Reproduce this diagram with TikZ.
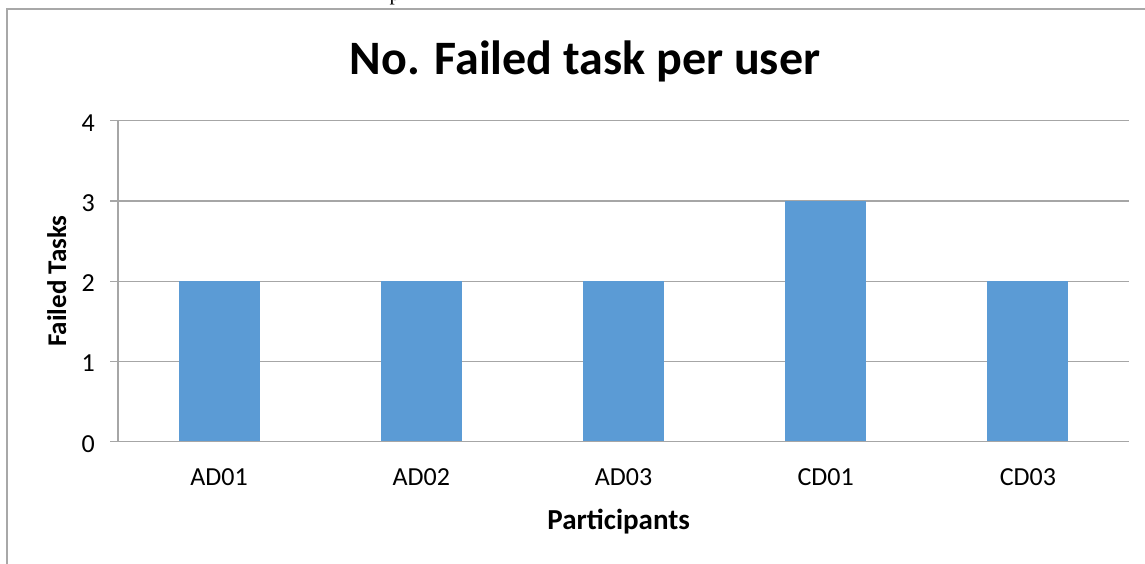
\documentclass[tikz,border=0pt]{standalone}
\usepackage{fontspec}
\setmainfont{Carlito}
\newfontfamily\pagefont{Liberation Serif}
\definecolor{barblue}{HTML}{5B9BD5}
\definecolor{gridgray}{HTML}{A6A6A6}
\definecolor{framegray}{HTML}{A8A8A8}
\begin{document}
\begin{tikzpicture}[x=1pt,y=-1pt,
  gridline/.style={draw=gridgray,line width=1.3pt},
  framestyle/.style={draw=framegray,line width=2pt},
  barstyle/.style={fill=barblue},
  ticklabel/.style={font=\fontsize{26}{30}\selectfont,inner sep=0pt,anchor=east},
  catlabel/.style={font=\fontsize{26}{30}\selectfont,inner sep=0pt,anchor=base},
  axistitle/.style={font=\fontsize{27}{32}\selectfont\bfseries,inner sep=0pt,anchor=base},
  charttitle/.style={font=\fontsize{48}{56}\selectfont\bfseries,inner sep=0pt,anchor=base}]
\useasboundingbox (0,0) rectangle (1145,563);

% page text cut off above the chart frame
\node[font=\pagefont\fontsize{21}{24}\selectfont,inner sep=0pt,anchor=base west] (pagetext) at (389.5,0) {p};

% chart frame
\draw[framestyle] (7,575) -- (7,8.7) -- (1155,8.7);

% title
\node[charttitle] (title) at (585,74) {No. Failed task per user};

% horizontal grid lines with ticks and value labels
\foreach \k in {1,...,4} {
  \draw[gridline] (110,{441.8-80.25*\k}) -- (1129,{441.8-80.25*\k});
}
\foreach \k in {0,...,4} {
  \node[ticklabel] (tick\k) at (95,{443.8-80.25*\k}) {\k};
}

% bars
\foreach \v [count=\i from 0] in {2,2,2,3,2} {
  \pgfmathsetmacro{\cx}{118+202.2*(\i+0.5)}
  \fill[barstyle] ({\cx-40.5},441.8) rectangle ({\cx+40.5},{441.8-80.25*\v});
}

% axes
\draw[gridline] (118,120.8) -- (118,441.8);
\draw[gridline] (110,441.8) -- (1129,441.8);

% category labels
\foreach \lab [count=\i from 0] in {AD01,AD02,AD03,CD01,CD03} {
  \node[catlabel] (cat\i) at ({118+202.2*(\i+0.5)},485.7) {\lab};
}

% axis titles
\node[axistitle,font=\fontsize{29}{34}\selectfont\bfseries] (xtitle) at (618.7,529.3) {Participants};
\node[axistitle,rotate=90] (ytitle) at (66,281) {Failed Tasks};
\end{tikzpicture}
\end{document}
